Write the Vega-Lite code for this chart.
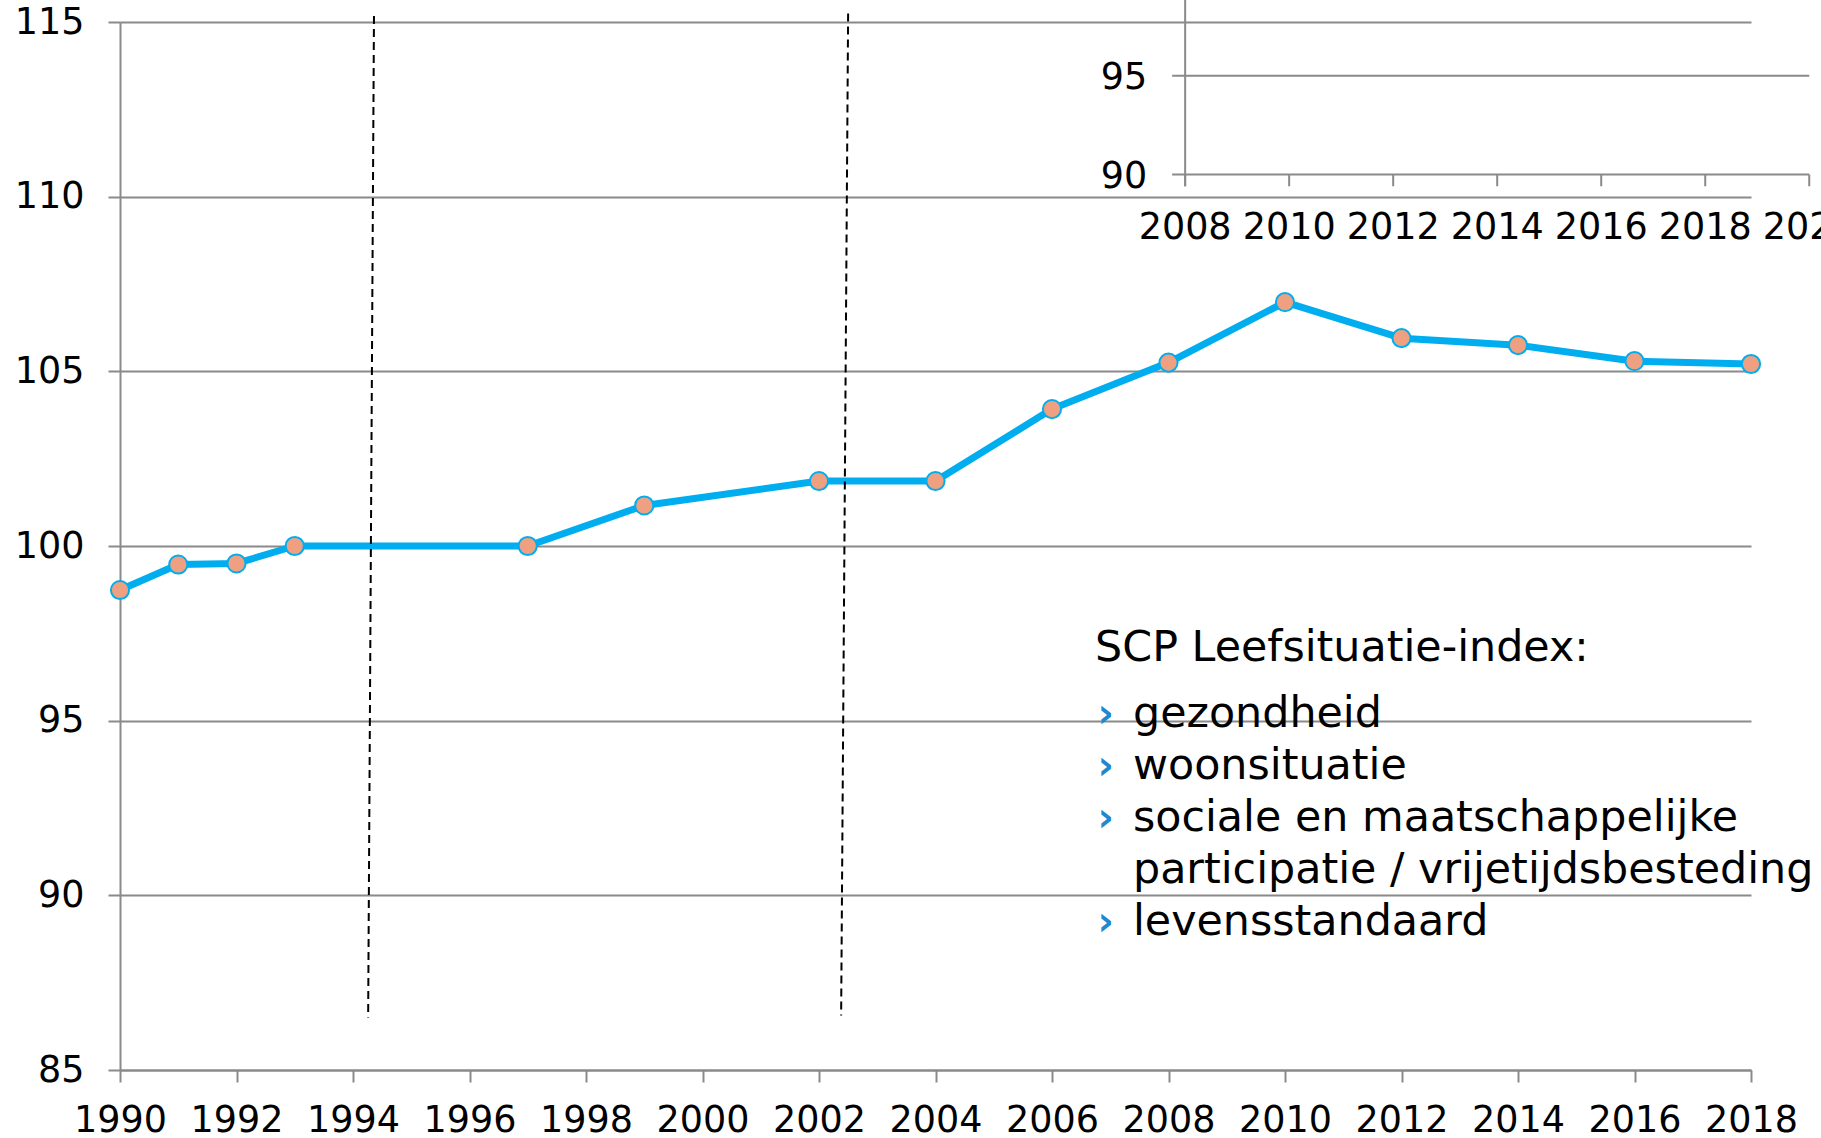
{
  "$schema": "https://vega.github.io/schema/vega-lite/v6.json",
  "width": 1631,
  "height": 1048,
  "autosize": {"type": "none"},
  "padding": {"left": 120, "top": 22, "right": 70, "bottom": 68},
  "background": "white",
  "config": {
    "view": {"stroke": null},
    "font": "DejaVu Sans",
    "text": {"font": "DejaVu Sans"}
  },
  "datasets": {
    "index": [
      {"year": 1990, "value": 98.74},
      {"year": 1991, "value": 99.47},
      {"year": 1992, "value": 99.50},
      {"year": 1993, "value": 100.0},
      {"year": 1997, "value": 100.0},
      {"year": 1999, "value": 101.16},
      {"year": 2002, "value": 101.86},
      {"year": 2004, "value": 101.86},
      {"year": 2006, "value": 103.92},
      {"year": 2008, "value": 105.25},
      {"year": 2010, "value": 106.98},
      {"year": 2012, "value": 105.95},
      {"year": 2014, "value": 105.75},
      {"year": 2016, "value": 105.29},
      {"year": 2018, "value": 105.21}
    ],
    "breaks": [
      {"yearTop": 1994.36, "valTop": 115.17, "yearBottom": 1994.26, "valBottom": 86.5},
      {"yearTop": 2002.50, "valTop": 115.24, "yearBottom": 2002.38, "valBottom": 86.56}
    ],
    "insetY": [{"v": 90}, {"v": 95}],
    "insetX": [
      {"yr": 2008}, {"yr": 2010}, {"yr": 2012}, {"yr": 2014},
      {"yr": 2016}, {"yr": 2018}, {"yr": 2020}
    ]
  },
  "layer": [
    {
      "layer": [
        {
          "data": {"name": "index"},
          "mark": {"type": "line", "color": "#00AEEF", "strokeWidth": 7, "strokeJoin": "round"},
          "encoding": {
            "x": {
              "field": "year", "type": "quantitative",
              "scale": {"domain": [1990, 2018], "nice": false, "zero": false},
              "axis": {
                "title": null,
                "values": [1990, 1992, 1994, 1996, 1998, 2000, 2002, 2004, 2006, 2008, 2010, 2012, 2014, 2016, 2018],
                "format": "d",
                "grid": false,
                "tickSize": 12,
                "tickWidth": 2,
                "tickColor": "#8a8a8a",
                "domainColor": "#8a8a8a",
                "domainWidth": 2,
                "labelFontSize": 36.5,
                "labelColor": "black",
                "labelPadding": 20,
                "labelFont": "DejaVu Sans",
                "labelOverlap": false,
                "labelFlush": false
              }
            },
            "y": {
              "field": "value", "type": "quantitative",
              "scale": {"domain": [85, 115], "nice": false, "zero": false},
              "axis": {
                "title": null,
                "values": [85, 90, 95, 100, 105, 110, 115],
                "grid": true,
                "gridColor": "#8a8a8a",
                "gridWidth": 2,
                "tickSize": 12,
                "tickWidth": 2,
                "tickColor": "#8a8a8a",
                "domainColor": "#8a8a8a",
                "domainWidth": 2,
                "labelFontSize": 36.5,
                "labelColor": "black",
                "labelPadding": 24,
                "labelFont": "DejaVu Sans",
                "labelFlush": false
              }
            }
          }
        },
        {
          "data": {"name": "breaks"},
          "mark": {"type": "rule", "color": "black", "strokeWidth": 2, "strokeDash": [8, 5]},
          "encoding": {
            "x": {"field": "yearTop", "type": "quantitative"},
            "y": {"field": "valTop", "type": "quantitative"},
            "x2": {"field": "yearBottom"},
            "y2": {"field": "valBottom"}
          }
        },
        {
          "data": {"name": "index"},
          "mark": {"type": "point", "filled": true, "fill": "#EFA080", "stroke": "#00AEEF", "strokeWidth": 2, "size": 330, "opacity": 1, "fillOpacity": 1},
          "encoding": {
            "x": {"field": "year", "type": "quantitative"},
            "y": {"field": "value", "type": "quantitative"}
          }
        },
        {
          "data": {"values": [{"t": "SCP Leefsituatie-index:"}]},
          "mark": {"type": "text", "align": "left", "baseline": "alphabetic", "fontSize": 42.8, "color": "black"},
          "encoding": {
            "x": {"datum": 2006.74, "type": "quantitative"},
            "y": {"datum": 96.70, "type": "quantitative"},
            "text": {"field": "t"}
          }
        },
        {
          "data": {"values": [{"t": ["›", "›", "›"]}]},
          "mark": {"type": "text", "align": "left", "baseline": "alphabetic", "fontSize": 40, "fontWeight": "bold", "lineHeight": 52, "color": "#1E88D0"},
          "encoding": {
            "x": {"datum": 2006.78, "type": "quantitative"},
            "y": {"datum": 94.81, "type": "quantitative"},
            "text": {"field": "t"}
          }
        },
        {
          "data": {"values": [{"t": "›"}]},
          "mark": {"type": "text", "align": "left", "baseline": "alphabetic", "fontSize": 40, "fontWeight": "bold", "color": "#1E88D0"},
          "encoding": {
            "x": {"datum": 2006.78, "type": "quantitative"},
            "y": {"datum": 88.86, "type": "quantitative"},
            "text": {"field": "t"}
          }
        },
        {
          "data": {"values": [{"t": ["gezondheid", "woonsituatie", "sociale en maatschappelijke", "participatie / vrijetijdsbesteding", "levensstandaard"]}]},
          "mark": {"type": "text", "align": "left", "baseline": "alphabetic", "fontSize": 42.8, "lineHeight": 52, "color": "black"},
          "encoding": {
            "x": {"datum": 2007.39, "type": "quantitative"},
            "y": {"datum": 94.81, "type": "quantitative"},
            "text": {"field": "t"}
          }
        }
      ]
    },
    {
      "layer": [
        {
          "data": {"name": "insetY"},
          "mark": {"type": "rule", "color": "#8a8a8a", "strokeWidth": 2},
          "encoding": {
            "y": {"field": "v", "type": "quantitative", "scale": {"domain": [44.76, 97.71], "nice": false, "zero": false}, "axis": null},
            "x": {"datum": 2007.75, "type": "quantitative", "scale": {"domain": [1987.52, 2018.88], "nice": false, "zero": false}, "axis": null},
            "x2": {"datum": 2020}
          }
        },
        {
          "data": {"values": [{"a": 1}]},
          "mark": {"type": "rule", "color": "#8a8a8a", "strokeWidth": 2},
          "encoding": {
            "x": {"datum": 2008, "type": "quantitative", "axis": null},
            "y": {"datum": 89.41, "type": "quantitative", "axis": null},
            "y2": {"datum": 99.2}
          }
        },
        {
          "data": {"name": "insetX"},
          "mark": {"type": "rule", "color": "#8a8a8a", "strokeWidth": 2},
          "encoding": {
            "x": {"field": "yr", "type": "quantitative", "axis": null},
            "y": {"datum": 90, "type": "quantitative", "axis": null},
            "y2": {"datum": 89.41}
          }
        },
        {
          "data": {"name": "insetX"},
          "mark": {"type": "text", "align": "center", "baseline": "middle", "fontSize": 36.5, "color": "black"},
          "encoding": {
            "x": {"field": "yr", "type": "quantitative", "axis": null},
            "y": {"datum": 87.32, "type": "quantitative", "axis": null},
            "text": {"field": "yr", "type": "quantitative", "format": "d"}
          }
        },
        {
          "data": {"name": "insetY"},
          "mark": {"type": "text", "align": "right", "baseline": "middle", "fontSize": 36.5, "dy": 2, "color": "black"},
          "encoding": {
            "x": {"datum": 2007.27, "type": "quantitative", "axis": null},
            "y": {"field": "v", "type": "quantitative", "axis": null},
            "text": {"field": "v", "type": "quantitative", "format": "d"}
          }
        }
      ]
    }
  ],
  "resolve": {
    "scale": {"x": "independent", "y": "independent"},
    "axis": {"x": "independent", "y": "independent"}
  }
}
